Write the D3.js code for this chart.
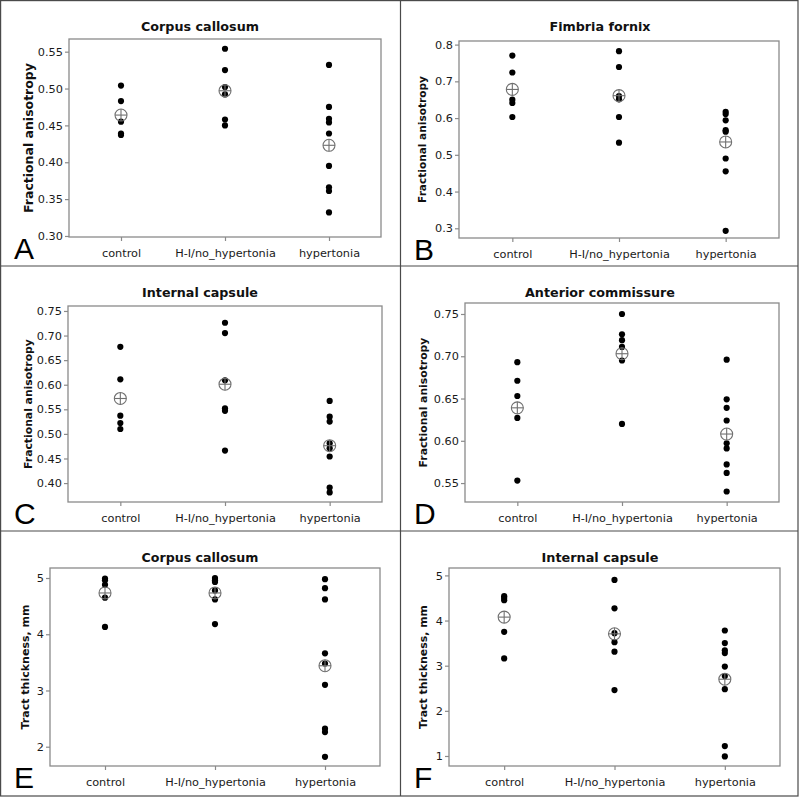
<!DOCTYPE html>
<html>
<head>
<meta charset="utf-8">
<script src="https://cdn.jsdelivr.net/npm/d3@7"></script>
<style>
body { margin: 0; background: #fff; }
</style>
</head>
<body>
<svg></svg>
<script>
// groups on the x axis
var groups = ["control", "H-I/no_hypertonia", "hypertonia"];

// panel titles, y labels, letters
var titles = ["Corpus callosum", "Fimbria fornix", "Internal capsule", "Anterior commissure", "Corpus callosum", "Internal capsule"];
var yLabels = ["Fractional anisotropy", "Fractional anisotropy", "Fractional anisotropy", "Fractional anisotropy", "Tract thickness, mm", "Tract thickness, mm"];
var letters = ["A", "B", "C", "D", "E", "F"];

// y ranges and tick labels
var yDomains = [[0.2986, 0.5672], [0.2736, 0.8098], [0.3615, 0.7601], [0.5276, 0.763], [1.657, 5.178], [0.778, 5.164]];
var yTicks = [
    ["0.30", "0.35", "0.40", "0.45", "0.50", "0.55"],
    ["0.3", "0.4", "0.5", "0.6", "0.7", "0.8"],
    ["0.40", "0.45", "0.50", "0.55", "0.60", "0.65", "0.70", "0.75"],
    ["0.55", "0.60", "0.65", "0.70", "0.75"],
    ["2", "3", "4", "5"],
    ["1", "2", "3", "4", "5"]
];

// individual values: [control, H-I/no_hypertonia, hypertonia]
var faCorpus = [
    [0.504, 0.483, 0.455, 0.439, 0.437],
    [0.554, 0.525, 0.502, 0.492, 0.458, 0.450],
    [0.532, 0.475, 0.459, 0.454, 0.439, 0.395, 0.366, 0.361, 0.332]
];
var faFimbria = [
    [0.770, 0.724, 0.650, 0.641, 0.603],
    [0.782, 0.739, 0.660, 0.651, 0.603, 0.533],
    [0.617, 0.611, 0.594, 0.567, 0.563, 0.490, 0.455, 0.293]
];
var faCapsule = [
    [0.677, 0.611, 0.537, 0.522, 0.510],
    [0.726, 0.705, 0.609, 0.552, 0.547, 0.466],
    [0.567, 0.535, 0.525, 0.481, 0.471, 0.454, 0.391, 0.381]
];
var faCommissure = [
    [0.693, 0.671, 0.653, 0.627, 0.553],
    [0.750, 0.726, 0.719, 0.711, 0.695, 0.620],
    [0.696, 0.649, 0.639, 0.624, 0.597, 0.591, 0.572, 0.562, 0.540]
];
var ttCorpus = [
    [4.99, 4.96, 4.88, 4.65, 4.13],
    [5.00, 4.96, 4.93, 4.78, 4.62, 4.18],
    [4.98, 4.82, 4.62, 3.66, 3.48, 3.10, 2.32, 2.26, 1.82]
];
var ttCapsule = [
    [4.54, 4.50, 4.45, 3.75, 3.16],
    [4.90, 4.27, 3.72, 3.52, 3.31, 2.46],
    [3.78, 3.50, 3.34, 3.28, 2.98, 2.77, 2.48, 1.22, 0.99]
];

// group means (circle-cross markers)
var faCorpusMean = [0.464, 0.497, 0.423];
var faFimbriaMean = [0.678, 0.661, 0.535];
var faCapsuleMean = [0.572, 0.601, 0.476];
var faCommissureMean = [0.639, 0.703, 0.608];
var ttCorpusMean = [4.734, 4.734, 3.44];
var ttCapsuleMean = [4.076, 3.706, 2.70];

var values = [faCorpus, faFimbria, faCapsule, faCommissure, ttCorpus, ttCapsule];
var means = [faCorpusMean, faFimbriaMean, faCapsuleMean, faCommissureMean, ttCorpusMean, ttCapsuleMean];

var svgWidth = 800, svgHeight = 798;
var svg = d3.select("svg")
    .attr("width", svgWidth)
    .attr("height", svgHeight);

// frame of every plot, relative to its panel
var frames = [
    {x0: 0,   y0: 0,   l: 69, r: 381, t: 39, b: 237, lx: 28},
    {x0: 400, y0: 0,   l: 59, r: 379, t: 41, b: 238, lx: 22},
    {x0: 0,   y0: 266, l: 68, r: 382, t: 40, b: 236, lx: 28},
    {x0: 400, y0: 266, l: 65, r: 379, t: 37, b: 236, lx: 23},
    {x0: 0,   y0: 531, l: 50, r: 380, t: 37, b: 235, lx: 25},
    {x0: 400, y0: 531, l: 49, r: 380, t: 37, b: 235, lx: 23}
];
// wanted text widths, to size the fonts
var titleWidths = [118, 101, 116, 150, 117, 117];
var labelWidths = [150, 127, 130, 130, 125, 124];

function fitText(sel, target) {
    var w = sel.node().getComputedTextLength();
    var fs = parseFloat(sel.attr("font-size"));
    sel.attr("font-size", fs * target / w);
}

for (var p = 0; p < 6; p++) {
    var f = frames[p];
    var g = svg.append("g")
        .attr("transform", "translate(" + f.x0 + "," + f.y0 + ")");

    var xScale = d3.scalePoint()
        .domain(groups)
        .range([f.l, f.r])
        .padding(0.5);
    var yScale = d3.scaleLinear()
        .domain(yDomains[p])
        .range([f.b, f.t]);

    // frame
    g.append("rect")
        .attr("x", f.l)
        .attr("y", f.t)
        .attr("width", f.r - f.l)
        .attr("height", f.b - f.t)
        .attr("fill", "#fff")
        .attr("stroke", "#8a8a8a")
        .attr("stroke-width", 1.3);

    var y_axis = d3.axisLeft(yScale)
        .tickValues(yTicks[p].map(Number))
        .tickFormat(function(d, i) { return yTicks[p][i]; })
        .tickSize(4)
        .tickPadding(2);
    var ya = g.append("g")
        .attr("transform", "translate(" + f.l + ",0)")
        .call(y_axis);

    var x_axis = d3.axisBottom(xScale)
        .tickSize(4)
        .tickPadding(8);
    var xa = g.append("g")
        .attr("transform", "translate(0," + f.b + ")")
        .call(x_axis);

    [ya, xa].forEach(function(a) {
        a.select(".domain").remove();
        a.selectAll(".tick line").attr("stroke", "#8a8a8a").attr("stroke-width", 1.2);
        a.selectAll(".tick text")
            .attr("font-family", "DejaVu Sans, Verdana, sans-serif")
            .attr("font-size", 11.3)
            .attr("fill", "#1a1a1a");
    });

    // individual points
    for (var k = 0; k < groups.length; k++) {
        g.selectAll(null)
            .data(values[p][k])
            .enter()
            .append("circle")
            .attr("cx", xScale(groups[k]))
            .attr("cy", function(d) { return yScale(d); })
            .attr("r", 3.1)
            .attr("fill", "#000");
    }

    // mean markers
    var m = g.selectAll(null)
        .data(means[p])
        .enter()
        .append("g")
        .attr("transform", function(d, i) {
            return "translate(" + xScale(groups[i]) + "," + yScale(d) + ")";
        })
        .attr("stroke", "#707070")
        .attr("stroke-width", 1.1)
        .attr("fill", "none");
    m.append("circle").attr("r", 6);
    m.append("line").attr("x1", -6).attr("x2", 6);
    m.append("line").attr("y1", -6).attr("y2", 6);

    // title
    var t = g.append("text")
        .attr("x", 200)
        .attr("y", 31)
        .attr("text-anchor", "middle")
        .attr("font-family", "DejaVu Sans, Verdana, sans-serif")
        .attr("font-weight", "bold")
        .attr("font-size", 14)
        .attr("fill", "#111")
        .text(titles[p]);
    fitText(t, titleWidths[p]);

    // y label
    var yl = g.append("text")
        .attr("transform", "translate(" + f.lx + "," + (f.t + f.b) / 2 + ") rotate(-90)")
        .attr("dy", "0.36em")
        .attr("text-anchor", "middle")
        .attr("font-family", "DejaVu Sans, Verdana, sans-serif")
        .attr("font-weight", "bold")
        .attr("font-size", 12)
        .attr("fill", "#111")
        .text(yLabels[p]);
    fitText(yl, labelWidths[p]);

    // panel letter
    g.append("text")
        .attr("x", 14)
        .attr("y", f.b + 22)
        .attr("font-family", "Liberation Sans, Arial, sans-serif")
        .attr("font-size", 30)
        .attr("fill", "#000")
        .text(letters[p]);
}

// panel grid lines
var gridColor = "#4a4a4a";
svg.append("rect")
    .attr("x", 0.6).attr("y", 0.6)
    .attr("width", 797.4).attr("height", 795.4)
    .attr("fill", "none")
    .attr("stroke", gridColor)
    .attr("stroke-width", 1.2);
svg.append("line")
    .attr("x1", 400.5).attr("x2", 400.5)
    .attr("y1", 0).attr("y2", 796)
    .attr("stroke", gridColor).attr("stroke-width", 1.2);
[266, 531].forEach(function(y) {
    svg.append("line")
        .attr("x1", 0).attr("x2", 798)
        .attr("y1", y).attr("y2", y)
        .attr("stroke", gridColor).attr("stroke-width", 1.2);
});
</script>
</body>
</html>
